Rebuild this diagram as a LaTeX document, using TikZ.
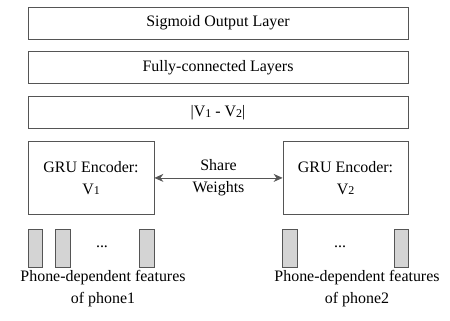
\documentclass[tikz,border=0pt]{standalone}
\usepackage{fontspec}
\setmainfont{Liberation Serif}
\usepackage{tikz}
\usetikzlibrary{positioning,arrows.meta}
\definecolor{edgegray}{HTML}{555555}
\definecolor{featgray}{HTML}{D4D4D4}
\newcommand{\vsub}[1]{V\raisebox{-0.6bp}{\fontsize{12}{12}\selectfont #1}}
\tikzset{
  layer/.style={draw=edgegray, line width=0.8bp, align=center,
                minimum width=380bp, minimum height=32bp, inner sep=0pt},
  enc/.style={draw=edgegray, line width=0.8bp, align=center,
              minimum width=126bp, minimum height=73bp, inner sep=0pt},
  feat/.style={draw=edgegray, fill=featgray, line width=0.8bp,
               minimum width=14.5bp, minimum height=38bp, inner sep=0pt},
  lbl/.style={align=center, inner sep=0pt},
  share/.style={{Stealth[length=9bp,width=8bp]}-{Stealth[length=9bp,width=8bp]},
                draw=edgegray, line width=0.8bp},
}

\begin{document}
\begin{tikzpicture}[x=1bp, y=1bp, font=\fontsize{16}{22}\selectfont]
    \useasboundingbox (0,0) rectangle (450,-320);
    \node[layer] (out) at (218,-23) {Sigmoid Output Layer};
    \node[layer, below=12bp of out] (fc) {Fully-connected Layers};
    \node[layer, below=12bp of fc] (diff) {|\vsub{1} - \vsub{2}|};
    \node[enc, anchor=north west] (encL) at ([yshift=-12bp]diff.south west) {GRU Encoder:\\\vsub{1}};
    \node[enc, anchor=north east, minimum width=125bp] (encR) at ([yshift=-12bp]diff.south east) {GRU Encoder:\\\vsub{2}};
    \draw[share] (encL) -- node[lbl] {Share\\Weights} (encR);
    % feature frames
    \node[feat] (fL1) at (35.5,-248) {};
    \node[feat] (fL2) at (63,-248) {};
    \node[feat] (fL3) at (147,-248) {};
    \node[feat] (fR1) at (290,-248) {};
    \node[feat] (fR2) at (401.5,-248) {};
    \node[lbl] (dotsL) at (102,-247) {...};
    \node[lbl] (dotsR) at (340,-247) {...};
    \node[lbl] (txtL) at (103,-289) {Phone-dependent features\\of phone1};
    \node[lbl] (txtR) at (357,-289) {Phone-dependent features\\of phone2};
  \end{tikzpicture}
\end{document}
